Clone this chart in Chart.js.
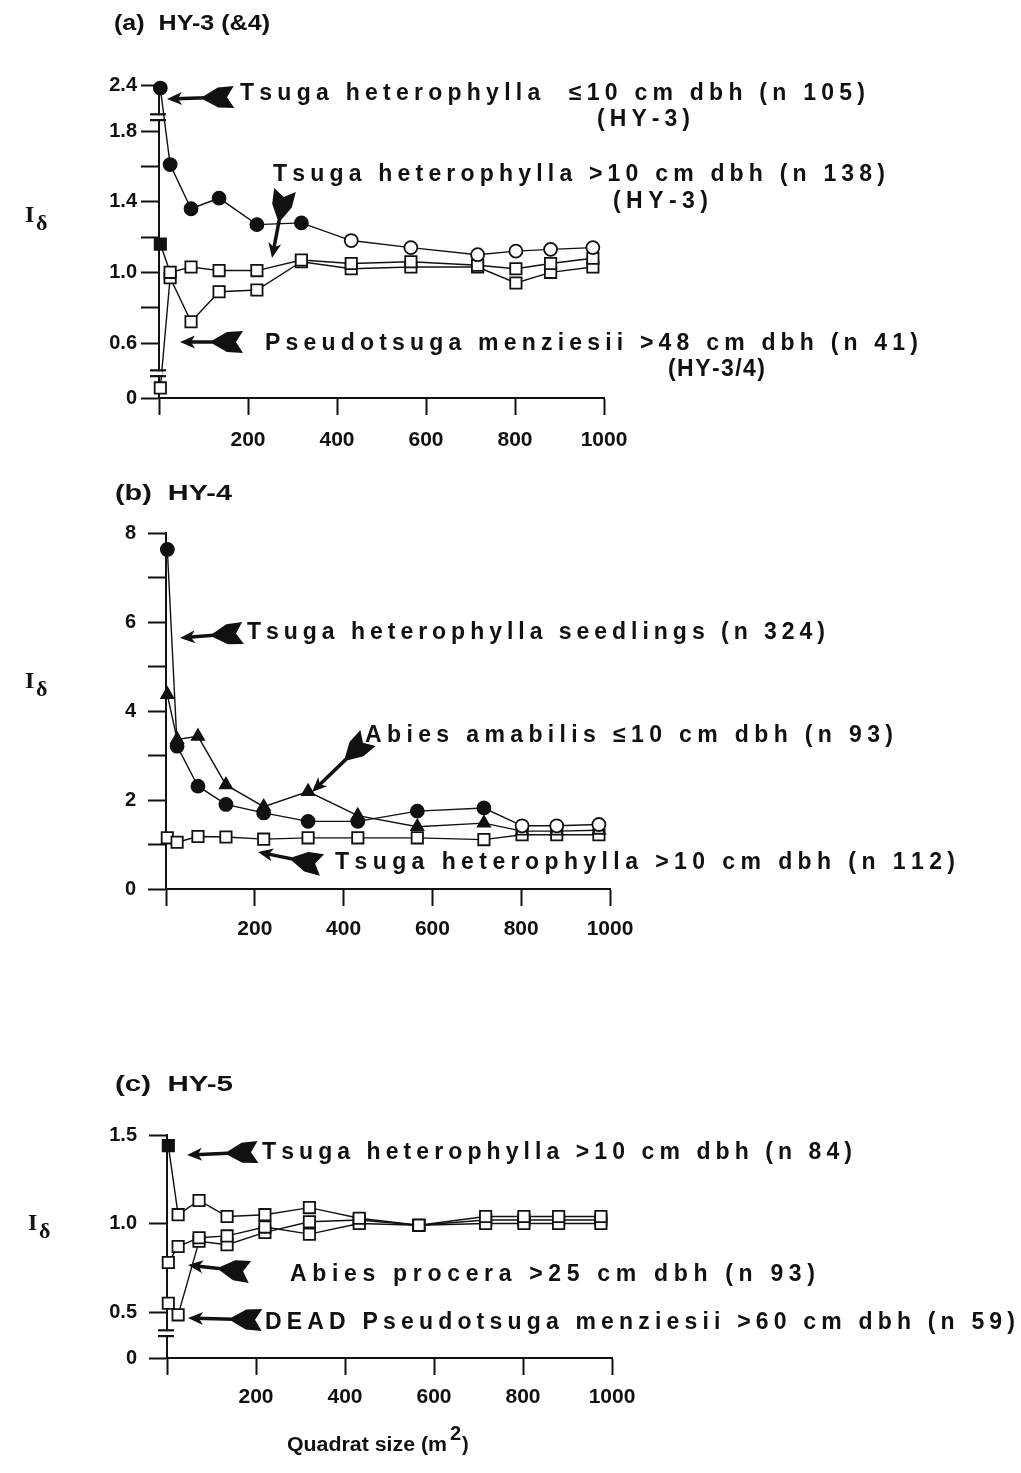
<!DOCTYPE html>
<html>
<head>
<meta charset="utf-8">
<title>Dispersion index vs quadrat size</title>
<script src="https://cdn.jsdelivr.net/npm/chart.js@4.4.1/dist/chart.umd.min.js"></script>
<style>
  html, body { margin: 0; padding: 0; background: #fff; }
  #page { position: relative; width: 1021px; height: 1473px; overflow: hidden; background: #fff; }
  #page canvas { position: absolute; left: 0; }
</style>
</head>
<body>
<div id="page">
  <canvas id="panelA" width="1021" height="470" style="top:0px"></canvas>
  <canvas id="panelB" width="1021" height="490" style="top:470px"></canvas>
  <canvas id="panelC" width="1021" height="513" style="top:960px"></canvas>
</div>
<script>
// ---------------------------------------------------------------
// Quadrat sizes (m²) at which the index was computed
const quadratSizes = [3, 25, 72, 135, 220, 320, 432, 566, 716, 802, 880, 975];

// (a) HY-3 (&4)
const tsugaSmallHY3   = [2.36, 1.61, 1.36, 1.42, 1.27, 1.28, 1.18, 1.14, 1.10, 1.12, 1.13, 1.14];
const tsugaLargeHY3   = [1.16, 1.00, 1.03, 1.01, 1.01, 1.07, 1.05, 1.06, 1.04, 1.02, 1.05, 1.08];
const pseudotsugaHY34 = [0.11, 0.97, 0.72, 0.89, 0.90, 1.06, 1.02, 1.03, 1.03, 0.94, 1.00, 1.03];
const yTicksA  = [0, 0.6, 0.8, 1.0, 1.2, 1.4, 1.6, 1.8, 2.4];
const yLabelsA = ['0', '0.6', '', '1.0', '', '1.4', '', '1.8', '2.4'];

// (b) HY-4
const seedlingsHY4   = [7.63, 3.21, 2.31, 1.90, 1.71, 1.52, 1.52, 1.75, 1.82, 1.42, 1.42, 1.45];
const abiesSmallHY4  = [4.37, 3.36, 3.43, 2.34, 1.85, 2.19, 1.65, 1.40, 1.48, 1.30, 1.30, 1.32];
const tsugaLargeHY4  = [1.15, 1.05, 1.18, 1.17, 1.12, 1.15, 1.15, 1.15, 1.11, 1.22, 1.22, 1.22];
const yTicksB  = [0, 1, 2, 3, 4, 5, 6, 7, 8];
const yLabelsB = ['0', '', '2', '', '4', '', '6', '', '8'];

// (c) HY-5
const tsugaLargeHY5      = [1.44, 1.05, 1.13, 1.04, 1.05, 1.09, 1.03, 0.99, 1.04, 1.04, 1.04, 1.04];
const abiesProceraHY5    = [0.78, 0.87, 0.92, 0.93, 0.98, 0.94, 1.00, 0.99, 1.00, 1.00, 1.00, 1.00];
const deadPseudotsugaHY5 = [0.55, 0.47, 0.90, 0.88, 0.95, 1.01, 1.02, 0.99, 1.02, 1.02, 1.02, 1.02];
const yTicksC  = [0, 0.5, 1.0, 1.5];
const yLabelsC = ['0', '0.5', '1.0', '1.5'];

// shared x axis
const xTicks  = [0, 200, 400, 600, 800, 1000];
const xLabels = ['', '200', '400', '600', '800', '1000'];
// ---------------------------------------------------------------

const INK = '#111';
const SANS = '"Liberation Sans", Arial, Helvetica, sans-serif';
const NARROW = '"Liberation Sans Narrow", "Liberation Sans", Arial, sans-serif';

// Linear axis with broken (compressed) segments: knots map a value to a
// fraction of the axis length, linear between knots.
class BrokenLinearScale extends Chart.LinearScale {
  _toDecimal(v) {
    const k = this.options.knots;
    if (!k) return (v - this.min) / (this.max - this.min);
    let i = 1;
    while (i < k.length - 1 && v > k[i][0]) i++;
    const [v0, f0] = k[i - 1], [v1, f1] = k[i];
    return f0 + (v - v0) * (f1 - f0) / (v1 - v0);
  }
  _fromDecimal(d) {
    const k = this.options.knots;
    if (!k) return this.min + d * (this.max - this.min);
    let i = 1;
    while (i < k.length - 1 && d > k[i][1]) i++;
    const [v0, f0] = k[i - 1], [v1, f1] = k[i];
    return v0 + (d - f0) * (v1 - v0) / (f1 - f0);
  }
  getPixelForValue(value) {
    if (value === null || isNaN(value)) return NaN;
    return this.getPixelForDecimal(this._toDecimal(value));
  }
  getValueForPixel(pixel) {
    return this._fromDecimal(this.getDecimalForPixel(pixel));
  }
}
BrokenLinearScale.id = 'brokenLinear';
BrokenLinearScale.defaults = Chart.LinearScale.defaults;
Chart.register(BrokenLinearScale);

function series(values, style) {
  return {
    data: values.map((v, i) => ({ x: quadratSizes[i], y: v })),
    showLine: true,
    borderColor: INK,
    borderWidth: 1.4,
    pointStyle: style.shape,
    pointRadius: style.radius,
    pointHoverRadius: style.radius,
    pointBorderColor: INK,
    pointBorderWidth: 1.8,
    pointBackgroundColor: values.map((_, i) => (i < style.filled ? INK : '#fff')),
    clip: false
  };
}

// text with letters spread to span a given width
function spacedText(ctx, text, x, y, width, font) {
  ctx.font = font;
  const chars = [...text];
  const w = chars.map(c => ctx.measureText(c).width);
  const total = w.reduce((a, b) => a + b, 0);
  const gap = chars.length > 1 ? (width - total) / (chars.length - 1) : 0;
  let cx = x;
  chars.forEach((c, i) => { ctx.fillText(c, cx, y); cx += w[i] + gap; });
}

// text squeezed/stretched horizontally to a given width
function fittedText(ctx, text, x, y, width, font) {
  ctx.font = font;
  const m = ctx.measureText(text).width;
  ctx.save();
  ctx.translate(x, y);
  ctx.scale(width / m, 1);
  ctx.fillText(text, 0, 0);
  ctx.restore();
}

// fletched pointer: small head at the tip, feathers at the tail
function drawArrow(ctx, tip, tail) {
  const dx = tail[0] - tip[0], dy = tail[1] - tip[1];
  const len = Math.hypot(dx, dy);
  const ux = dx / len, uy = dy / len, nx = -uy, ny = ux;
  const P = (a, b) => [tip[0] + ux * a + nx * b, tip[1] + uy * a + ny * b];
  ctx.save();
  ctx.fillStyle = INK; ctx.strokeStyle = INK;
  ctx.lineWidth = 3.5; ctx.lineCap = 'butt';
  ctx.beginPath(); ctx.moveTo(...P(8, 0)); ctx.lineTo(...P(len - 20, 0)); ctx.stroke();
  ctx.beginPath();
  ctx.moveTo(...P(0, 0)); ctx.lineTo(...P(15, 6.5)); ctx.lineTo(...P(11, 0)); ctx.lineTo(...P(15, -6.5));
  ctx.closePath(); ctx.fill();
  const t = len;
  const fl = [[t - 30, 2], [t - 16, 10], [t, 11], [t - 7, 0], [t, -11], [t - 16, -10], [t - 30, -2]];
  ctx.beginPath();
  fl.forEach((p, i) => { const q = P(p[0], p[1]); i ? ctx.lineTo(q[0], q[1]) : ctx.moveTo(q[0], q[1]); });
  ctx.closePath(); ctx.fill();
  ctx.restore();
}

const LABEL_FONT = 'bold 23px ' + SANS;

// draws panel title, I_delta axis title, axis breaks, pointers and labels
function decor(cfg) {
  return {
    id: 'decor',
    afterDraw(chart) {
      const ctx = chart.ctx;
      const off = cfg.offset;
      ctx.save();
      ctx.fillStyle = INK;
      ctx.textBaseline = 'alphabetic';
      ctx.textAlign = 'left';
      // panel title
      fittedText(ctx, cfg.title.text, cfg.title.x, cfg.title.y - off, cfg.title.w, 'bold 22px ' + NARROW);
      // y title: I with subscript delta
      ctx.font = 'bold 24px "Liberation Serif", "DejaVu Serif", serif';
      ctx.fillText('I', cfg.yTitle.x, cfg.yTitle.y - off);
      ctx.font = 'bold 22px "Liberation Serif", "DejaVu Serif", serif';
      ctx.fillText('δ', cfg.yTitle.x + 11, cfg.yTitle.y - off + 8);
      // axis breaks
      const ys = chart.scales.y, xl = chart.chartArea.left;
      (cfg.breaks || []).forEach(v => {
        const py = ys.getPixelForValue(v);
        ctx.fillStyle = '#fff';
        ctx.fillRect(xl - 3, py - 2, 6, 4);
        ctx.fillStyle = INK;
        ctx.fillRect(xl - 9, py - 4, 16, 2.2);
        ctx.fillRect(xl - 9, py + 1.8, 16, 2.2);
      });
      // pointers and species labels
      cfg.notes.forEach(n => {
        if (n.arrow) drawArrow(ctx, [n.arrow.tip[0], n.arrow.tip[1] - off], [n.arrow.tail[0], n.arrow.tail[1] - off]);
        ctx.fillStyle = INK;
        n.lines.forEach(l => spacedText(ctx, l.text, l.x, l.y - off, l.w, LABEL_FONT));
      });
      // x axis title
      if (cfg.xTitle) {
        const t = cfg.xTitle;
        fittedText(ctx, 'Quadrat size (m', t.x, t.y - off, t.w, 'bold 20px ' + NARROW);
        ctx.font = 'bold 20px ' + SANS;
        ctx.fillText('2', t.x + t.w + 3, t.y - off - 11);
        ctx.font = 'bold 20px ' + NARROW;
        ctx.fillText(')', t.x + t.w + 15, t.y - off);
      }
      ctx.restore();
    }
  };
}

function makePanel(id, p) {
  const canvas = document.getElementById(id);
  const H = canvas.height, W = canvas.width;
  const yAxisW = 100, xAxisH = 50;
  const area = p.area;
  const yScale = {
    type: p.yType,
    position: 'left',
    min: p.yMin, max: p.yMax,
    afterBuildTicks: s => { s.ticks = p.yTicks.map(v => ({ value: v })); },
    afterFit: s => { s.width = yAxisW; },
    ticks: {
      callback: (v, i) => p.yLabels[i],
      color: INK,
      padding: p.yPad,
      font: { family: SANS, size: 20, weight: 'bold' }
    },
    grid: { drawOnChartArea: false, drawTicks: true, tickLength: p.yTickLen, tickWidth: 2, tickColor: INK },
    border: { display: true, color: INK, width: 2 }
  };
  if (p.knots) yScale.knots = p.knots;
  return new Chart(canvas, {
    type: 'scatter',
    data: { datasets: p.datasets },
    options: {
      responsive: false,
      animation: false,
      devicePixelRatio: 1,
      layout: {
        padding: {
          left: area.left - yAxisW,
          right: W - area.right,
          top: area.top - p.offset,
          bottom: H - (area.bottom - p.offset) - xAxisH
        }
      },
      plugins: { legend: { display: false }, tooltip: { enabled: false }, title: { display: false } },
      scales: {
        x: {
          type: 'linear',
          position: 'bottom',
          min: 0, max: 1000,
          afterBuildTicks: s => { s.ticks = xTicks.map(v => ({ value: v })); },
          afterFit: s => { s.height = xAxisH; },
          ticks: {
            callback: (v, i) => xLabels[i],
            color: INK,
            padding: p.xPad,
            maxRotation: 0,
            autoSkip: false,
            font: { family: SANS, size: 21, weight: 'bold' }
          },
          grid: { drawOnChartArea: false, drawTicks: true, tickLength: 17, tickWidth: 2, tickColor: INK },
          border: { display: true, color: INK, width: 2 }
        },
        y: yScale
      }
    },
    plugins: [decor(p.decor)]
  });
}

// ---- (a) HY-3 (&4)
makePanel('panelA', {
  offset: 0,
  area: { left: 159, right: 604, top: 85, bottom: 398 },
  yType: 'brokenLinear', yMin: 0, yMax: 2.4,
  // value -> fraction of axis height (axis is broken below 0.6 and above 1.8)
  knots: [[0, 0], [0.6, 0.1757], [1.8, 0.853], [2.4, 1]],
  yTicks: yTicksA, yLabels: yLabelsA, yPad: 4, yTickLen: 18, xPad: 13,
  datasets: [
    series(tsugaSmallHY3,   { shape: 'circle', radius: 6.5, filled: 6 }),
    series(tsugaLargeHY3,   { shape: 'rect',   radius: 8,   filled: 1 }),
    series(pseudotsugaHY34, { shape: 'rect',   radius: 8,   filled: 0 })
  ],
  decor: {
    offset: 0,
    title: { text: '(a)  HY-3 (&4)', x: 114, y: 30, w: 156 },
    yTitle: { x: 25, y: 222 },
    breaks: [1.98, 0.27],
    notes: [
      { arrow: { tip: [167, 99], tail: [234, 97] },
        lines: [{ text: 'Tsuga heterophylla  ≤10 cm dbh (n 105)', x: 240, y: 100, w: 625 },
                { text: '(HY-3)', x: 597, y: 126, w: 93 }] },
      { arrow: { tip: [272, 258], tail: [285, 190] },
        lines: [{ text: 'Tsuga heterophylla >10 cm dbh (n 138)', x: 273, y: 181, w: 612 },
                { text: '(HY-3)', x: 613, y: 208, w: 95 }] },
      { arrow: { tip: [180, 342], tail: [243, 342] },
        lines: [{ text: 'Pseudotsuga menziesii >48 cm dbh (n 41)', x: 265, y: 350, w: 653 },
                { text: '(HY-3/4)', x: 668, y: 376, w: 97 }] }
    ]
  }
});

// ---- (b) HY-4
makePanel('panelB', {
  offset: 470,
  area: { left: 166, right: 610, top: 533, bottom: 889 },
  yType: 'linear', yMin: 0, yMax: 8,
  yTicks: yTicksB, yLabels: yLabelsB, yPad: 12, yTickLen: 18, xPad: 11,
  datasets: [
    series(seedlingsHY4,  { shape: 'circle',   radius: 6.5, filled: 9 }),
    series(abiesSmallHY4, { shape: 'triangle', radius: 7,   filled: 9 }),
    series(tsugaLargeHY4, { shape: 'rect',     radius: 8,   filled: 0 })
  ],
  decor: {
    offset: 470,
    title: { text: '(b)  HY-4', x: 115, y: 500, w: 117 },
    yTitle: { x: 25, y: 688 },
    notes: [
      { arrow: { tip: [180, 638], tail: [243, 633] },
        lines: [{ text: 'Tsuga heterophylla seedlings (n 324)', x: 247, y: 639, w: 578 }] },
      { arrow: { tip: [312, 792], tail: [368, 738] },
        lines: [{ text: 'Abies amabilis ≤10 cm dbh (n 93)', x: 365, y: 742, w: 528 }] },
      { arrow: { tip: [258, 852], tail: [322, 865] },
        lines: [{ text: 'Tsuga heterophylla >10 cm dbh (n 112)', x: 335, y: 869, w: 620 }] }
    ]
  }
});

// ---- (c) HY-5
makePanel('panelC', {
  offset: 960,
  area: { left: 167, right: 612, top: 1135, bottom: 1358 },
  yType: 'brokenLinear', yMin: 0, yMax: 1.5,
  // axis is broken below 0.5
  knots: [[0, 0], [0.5, 0.206], [1.5, 1]],
  yTicks: yTicksC, yLabels: yLabelsC, yPad: 12, yTickLen: 18, xPad: 10,
  datasets: [
    series(tsugaLargeHY5,      { shape: 'rect', radius: 8, filled: 1 }),
    series(abiesProceraHY5,    { shape: 'rect', radius: 8, filled: 0 }),
    series(deadPseudotsugaHY5, { shape: 'rect', radius: 8, filled: 0 })
  ],
  decor: {
    offset: 960,
    title: { text: '(c)  HY-5', x: 115, y: 1091, w: 118 },
    yTitle: { x: 28, y: 1230 },
    breaks: [0.27],
    notes: [
      { arrow: { tip: [187, 1155], tail: [258, 1152] },
        lines: [{ text: 'Tsuga heterophylla >10 cm dbh (n 84)', x: 262, y: 1159, w: 590 }] },
      { arrow: { tip: [188, 1265], tail: [250, 1272] },
        lines: [{ text: 'Abies procera >25 cm dbh (n 93)', x: 290, y: 1281, w: 525 }] },
      { arrow: { tip: [188, 1318], tail: [262, 1320] },
        lines: [{ text: 'DEAD Pseudotsuga menziesii >60 cm dbh (n 59)', x: 265, y: 1329, w: 750 }] }
    ],
    xTitle: { x: 287, y: 1451, w: 160 }
  }
});
</script>
</body>
</html>
